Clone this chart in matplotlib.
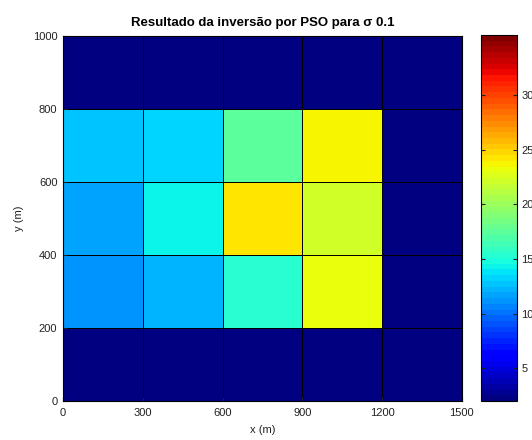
import numpy as np
import matplotlib
matplotlib.use('Agg')
import matplotlib.pyplot as plt

# malha do modelo (m)
x_edges = [0, 300, 600, 900, 1200, 1500]
y_edges = [0, 200, 400, 600, 800, 1000]

# resistividade estimada em cada bloco, linhas de baixo para cima
fundo = 2.0
linha_200_400 = [11.2, 12.2, 15.4, 23.2, fundo]
linha_400_600 = [11.7, 14.3, 24.25, 22.15, fundo]
linha_600_800 = [12.7, 13.25, 17.7, 23.7, fundo]
linha_0_200 = [fundo] * 5
linha_800_1000 = [fundo] * 5

cmin, cmax = 2.0, 35.5
cbar_ticks = [5, 10, 15, 20, 25, 30]

plt.rcParams['font.family'] = ['Liberation Sans', 'DejaVu Sans']

modelo = np.array([linha_0_200, linha_200_400, linha_400_600,
                   linha_600_800, linha_800_1000])

fig = plt.figure(figsize=(5.32, 4.40), dpi=100)
ax = fig.add_axes([0.1184, 0.0886, 0.7496, 0.8296])
cax = fig.add_axes([0.904, 0.0886, 0.0677, 0.8318])

cmap = plt.get_cmap('jet', 64)
pc = ax.pcolormesh(x_edges, y_edges, modelo, cmap=cmap, vmin=cmin, vmax=cmax,
                   edgecolors='k', linewidth=0.6)

ax.set_xlim(0, 1500)
ax.set_ylim(0, 1000)
ax.set_xticks(x_edges)
ax.set_yticks(y_edges)
ax.tick_params(direction='in', length=3, labelsize=8, colors='#222222')
ax.tick_params(axis='x', pad=5)
ax.tick_params(axis='y', pad=4)
ax.set_xlabel('x (m)', fontsize=8, labelpad=5, color='#222222')
ax.set_ylabel('y (m)', fontsize=8, labelpad=6, color='#222222')
ax.set_title('Resultado da inversão por PSO para σ 0.1',
             fontsize=9.5, fontweight='bold', pad=7)

cb = fig.colorbar(pc, cax=cax, ticks=cbar_ticks)
cb.ax.tick_params(direction='in', length=3, labelsize=8, right=True, left=True,
                  pad=3, colors='#222222')
cb.outline.set_linewidth(0.8)

for s in ax.spines.values():
    s.set_linewidth(0.8)

fig.savefig('out.png', dpi=100)
